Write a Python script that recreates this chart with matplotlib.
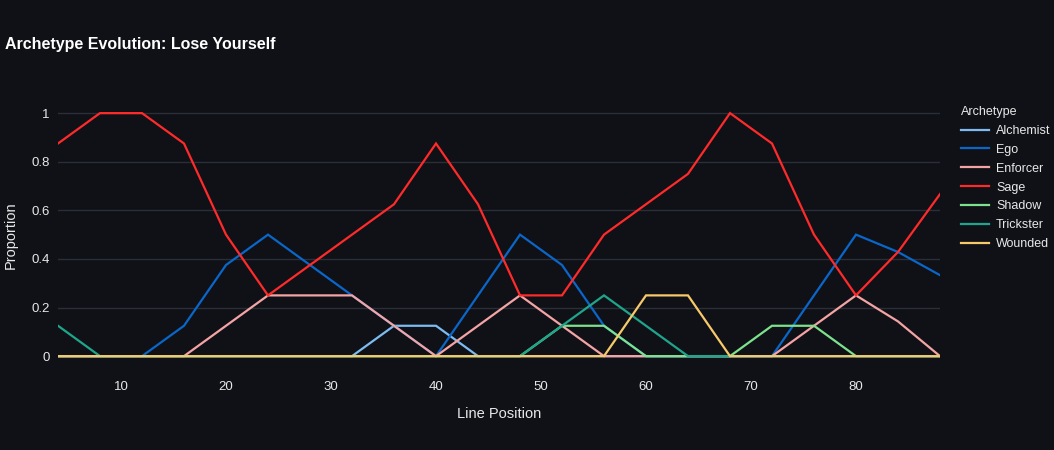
import matplotlib.pyplot as plt

W, H = 1054, 450

positions = [4, 8, 12, 16, 20, 24, 28, 32, 36, 40, 44, 48, 52, 56, 60, 64, 68, 72, 76, 80, 84, 88]

alchemist = [0, 0, 0, 0, 0, 0, 0, 0, 0.125, 0.125, 0, 0, 0, 0, 0, 0, 0, 0, 0, 0, 0, 0]
ego = [0, 0, 0, 0.125, 0.375, 0.5, 0.375, 0.25, 0.125, 0, 0.25, 0.5, 0.375, 0.125, 0, 0, 0, 0, 0.25, 0.5, 0.4286, 0.3333]
enforcer = [0, 0, 0, 0, 0.125, 0.25, 0.25, 0.25, 0.125, 0, 0.125, 0.25, 0.125, 0, 0, 0, 0, 0, 0.125, 0.25, 0.1429, 0]
sage = [0.875, 1, 1, 0.875, 0.5, 0.25, 0.375, 0.5, 0.625, 0.875, 0.625, 0.25, 0.25, 0.5, 0.625, 0.75, 1, 0.875, 0.5, 0.25, 0.4286, 0.6667]
shadow = [0, 0, 0, 0, 0, 0, 0, 0, 0, 0, 0, 0, 0.125, 0.125, 0, 0, 0, 0.125, 0.125, 0, 0, 0]
trickster = [0.125, 0, 0, 0, 0, 0, 0, 0, 0, 0, 0, 0, 0.125, 0.25, 0.125, 0, 0, 0, 0, 0, 0, 0]
wounded = [0, 0, 0, 0, 0, 0, 0, 0, 0, 0, 0, 0, 0, 0, 0.25, 0.25, 0, 0, 0, 0, 0, 0]

series = [
    ("Alchemist", alchemist, "#7dbbf0"),
    ("Ego", ego, "#0a66c8"),
    ("Enforcer", enforcer, "#f4a4a4"),
    ("Sage", sage, "#ff2a2a"),
    ("Shadow", shadow, "#7ee28c"),
    ("Trickster", trickster, "#1fa58c"),
    ("Wounded", wounded, "#f7c96a"),
]

bg = "#0f1117"
txt = "#e8e8e8"
plt.rcParams['font.family'] = ['Liberation Sans', 'DejaVu Sans']

fig = plt.figure(figsize=(W / 100, H / 100), dpi=100, facecolor=bg)
left, right, top, bottom = 58, 940, 100, 370
ax = fig.add_axes([left / W, 1 - bottom / H, (right - left) / W, (bottom - top) / H])
ax.set_facecolor(bg)

for name, vals, col in series:
    ax.plot(positions, vals, color=col, lw=1.6, label=name, solid_joinstyle='miter')

ax.set_xlim(4, 88)
ax.set_ylim(-0.057, 1.054)
ax.set_xticks([10, 20, 30, 40, 50, 60, 70, 80])
ax.set_yticks([0, 0.2, 0.4, 0.6, 0.8, 1])
ax.set_yticklabels(["0", "0.2", "0.4", "0.6", "0.8", "1"])
ax.grid(axis='y', color="#2b2e36", lw=1)
ax.set_axisbelow(True)
ax.tick_params(colors=txt, labelsize=9.5, length=0, pad=8)
ax.tick_params(axis='y', pad=6)
for s in ax.spines.values():
    s.set_visible(False)

ax.set_xlabel("Line Position", color=txt, fontsize=10.5, labelpad=10)
ax.set_ylabel("Proportion", color=txt, fontsize=10.5, labelpad=10)

fig.text(5 / W, 1 - 45 / H, "Archetype Evolution: Lose Yourself", color="white",
         fontsize=11.5, fontweight='bold', va='center', ha='left')

leg = ax.legend(loc='upper left', bbox_to_anchor=(961 / W, 1 - 106 / H), bbox_transform=fig.transFigure,
                frameon=False, title="Archetype", fontsize=9, title_fontsize=9,
                handlelength=2.2, handletextpad=0.6, labelspacing=0.55, borderaxespad=0, borderpad=0)
leg._legend_box.align = "left"
for t in leg.get_texts():
    t.set_color(txt)
leg.get_title().set_color(txt)

fig.savefig("out.png", dpi=100, facecolor=bg)
